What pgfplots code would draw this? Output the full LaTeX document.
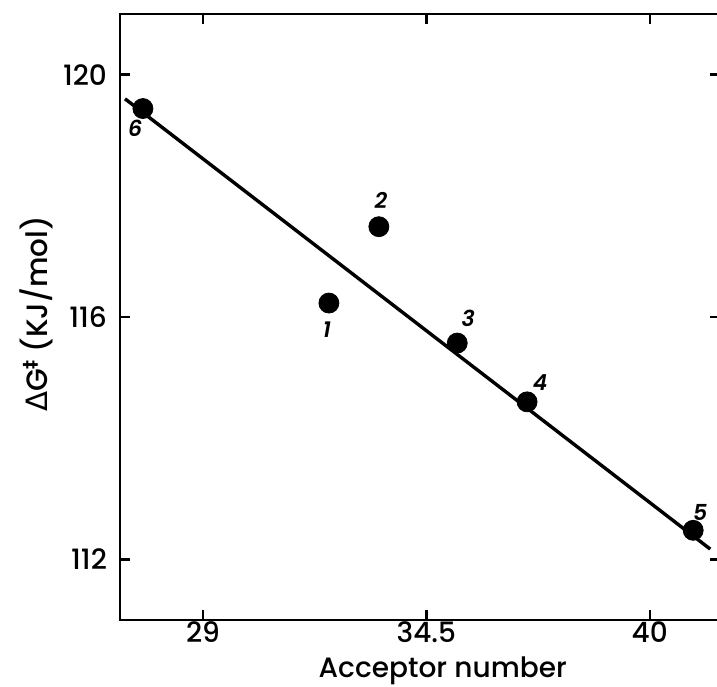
\documentclass[border=0pt]{standalone}
\usepackage{fontspec}
\setmainfont{Poppins}[UprightFont=* Medium, ItalicFont=* SemiBold Italic]
\newfontfamily\dv{DejaVu Sans}
\usepackage{pgfplots}
\pgfplotsset{compat=1.18}
\begin{document}
\begin{tikzpicture}
\begin{axis}[
  scale only axis,
  width=300pt, height=303pt,
  xmin=26.956, xmax=41.73,
  ymin=111, ymax=121,
  xtick={29,34.5,40},
  xticklabels={29,34.5,40},
  ytick={112,116,120},
  tick align=inside,
  major tick length=5pt,
  axis line style={line width=1.4pt},
  every tick/.style={line width=1.2pt, black},
  tick label style={font=\fontsize{14}{14}\selectfont},
  /pgf/number format/assume math mode=true,
  yticklabel style={xshift=-3pt},
  xticklabel style={yshift=-0.5pt, inner sep=0pt},
  xlabel={Acceptor number},
  xlabel style={font=\fontsize{14}{14}\selectfont, at={(axis description cs:0.538,0)}, anchor=center, yshift=-25.5pt, inner sep=0pt},
  ylabel={{\dv Δ}G{\raisebox{0.35em}{\dv\bfseries\fontsize{9}{9}\selectfont ‡}} (KJ/mol)},
  ylabel style={font=\fontsize{14.7}{14.7}\selectfont, at={(axis description cs:0,0.505)}, anchor=center, yshift=42pt},
  clip=false,
]
\addplot[black, line width=1.7pt] coordinates {(27.08,119.60) (41.49,112.17)};
\addplot[only marks, mark=*, mark size=5pt, black] coordinates {
  (27.52,119.44)
  (32.10,116.23)
  (33.33,117.49)
  (35.26,115.57)
  (36.98,114.60)
  (41.07,112.48)
};
\begin{scope}[font=\fontsize{11}{11}\selectfont\itshape]
\node at (axis cs:27.33,119.11) {6};
\node at (axis cs:32.05,115.79) {1};
\node at (axis cs:33.38,117.92) {2};
\node at (axis cs:35.53,115.98) {3};
\node at (axis cs:37.30,114.91) {4};
\node at (axis cs:41.24,112.78) {5};
\end{scope}
\end{axis}
\pgfresetboundingbox
\useasboundingbox (-60pt,-33pt) rectangle (298.5pt,310pt);
\end{tikzpicture}
\end{document}
